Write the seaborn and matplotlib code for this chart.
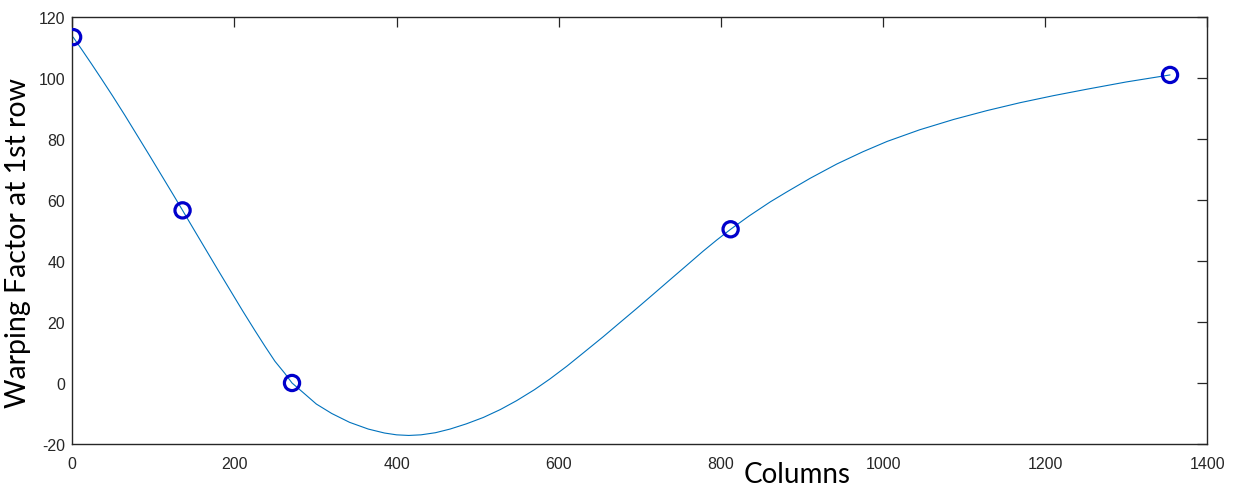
import matplotlib
matplotlib.use("Agg")
import matplotlib.pyplot as plt
import seaborn as sns
import pandas as pd

# sample points (circles)
col_points = [1, 136, 271, 812, 1354]
warp_points = [113.4, 56.6, 0.0, 50.4, 101.0]

# fitted curve
curve_cols = [1, 12, 24, 36, 50, 65, 80, 95, 110, 125, 136,
              150, 165, 180, 195, 210, 225, 238, 250, 262, 271,
              285, 301, 320, 342, 365, 385, 400, 415, 430, 448, 466, 486, 507, 528, 548, 570, 589,
              610, 630, 655, 675, 696, 717, 737, 758, 778, 795, 812,
              835, 861, 881, 910, 943, 975, 1005, 1045, 1087, 1128, 1169, 1210, 1251, 1300, 1354]
curve_warp = [113.4, 109.2, 104.5, 99.7, 94.0, 87.7, 81.2, 74.7, 68.1, 61.5, 56.6,
              50.3, 43.6, 36.9, 30.3, 23.7, 17.3, 11.9, 7.1, 3.2, 0.0,
              -3.2, -6.9, -10.0, -12.9, -15.1, -16.4, -17.0, -17.2, -17.0, -16.3, -15.1, -13.4, -11.3, -8.7, -5.8, -2.2, 1.3,
              5.5, 9.8, 15.2, 19.7, 24.4, 29.2, 33.8, 38.6, 43.2, 46.9, 50.4,
              54.8, 59.4, 62.6, 67.1, 71.8, 75.8, 79.2, 83.0, 86.4, 89.3, 91.9, 94.2, 96.3, 98.7, 101.0]

x_ticks = [0, 200, 400, 600, 800, 1000, 1200, 1400]
y_ticks = [-20, 0, 20, 40, 60, 80, 100, 120]

sns.set_style("white")
plt.rcParams["font.family"] = ["Liberation Sans", "DejaVu Sans"]
plt.rcParams["axes.unicode_minus"] = False

curve_df = pd.DataFrame({"col": curve_cols, "warp": curve_warp})
pts_df = pd.DataFrame({"col": col_points, "warp": warp_points})

fig = plt.figure(figsize=(12.36, 4.89), dpi=100)
ax = fig.add_axes([0.0585, 0.09, 0.9183, 0.8732])

sns.lineplot(data=curve_df, x="col", y="warp", ax=ax, color="#0072bd",
             linewidth=0.8, sort=False, errorbar=None)
sns.scatterplot(data=pts_df, x="col", y="warp", ax=ax, marker="o", s=120,
                facecolors="none", edgecolor="#0000cc", linewidth=2.3, zorder=3)

ax.set_xlim(0, 1400)
ax.set_ylim(-20, 120)
ax.set_xticks(x_ticks)
ax.set_yticks(y_ticks)

for side in ["top", "right", "bottom", "left"]:
    ax.spines[side].set_visible(True)
    ax.spines[side].set_color("#262626")
    ax.spines[side].set_linewidth(1.0)

ax.tick_params(axis="both", direction="in", length=7, width=0.9, color="#262626",
               labelsize=11.5, labelcolor="#262626", top=True, right=True)
ax.tick_params(axis="x", pad=9)
ax.tick_params(axis="y", pad=5)

label_font = ["Lato", "DejaVu Sans"]
ax.set_xlabel("Columns", fontsize=20, family=label_font, color="black")
ax.set_ylabel("Warping Factor at 1st row", fontsize=20.5, family=label_font, color="black")
ax.xaxis.set_label_coords(0.6385, -0.04)
ax.yaxis.set_label_coords(-0.036, 0.473)

fig.savefig("out.png", dpi=100)
